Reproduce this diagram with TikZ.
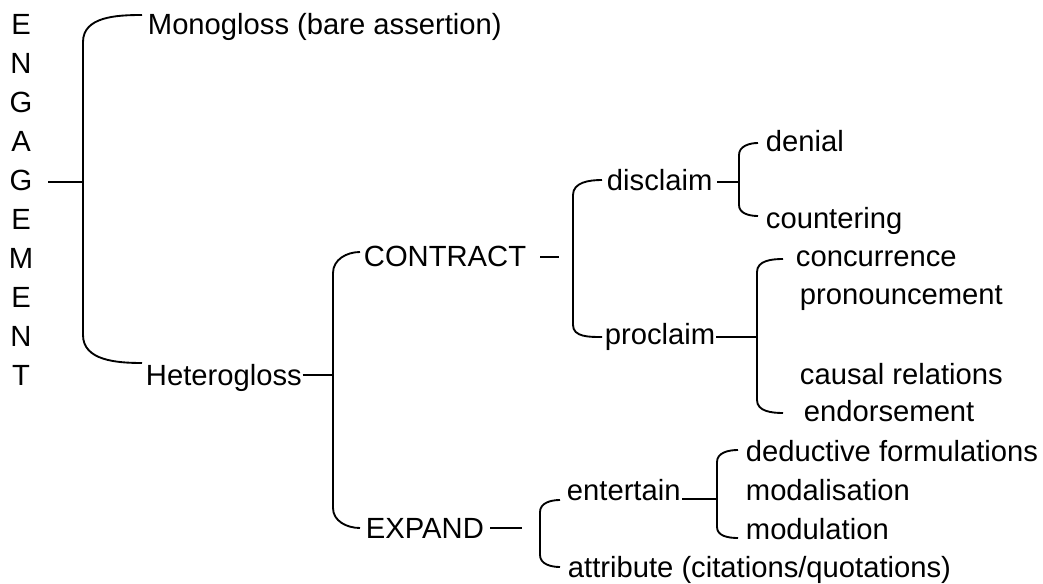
\documentclass[tikz,border=0pt]{standalone}
\usepackage{fontspec}
\setmainfont{Liberation Sans}

\begin{document}
\begin{tikzpicture}[x=0.75pt,y=-0.75pt,line width=1.4pt,
  every node/.style={inner sep=0pt,anchor=base west,font=\fontsize{21.9}{26}\selectfont}]
\useasboundingbox (0,0) rectangle (1043,584);

% ENGAGEMENT, one letter per line
\node[anchor=base] (l1) at (21,35) {E};
\node[anchor=base] (l2) at (21,73.9) {N};
\node[anchor=base] (l3) at (21,112.8) {G};
\node[anchor=base] (l4) at (21,151.7) {A};
\node[anchor=base] (l5) at (21,190.6) {G};
\node[anchor=base] (l6) at (21,229.5) {E};
\node[anchor=base] (l7) at (21,268.4) {M};
\node[anchor=base] (l8) at (21,307.3) {E};
\node[anchor=base] (l9) at (21,346.2) {N};
\node[anchor=base] (l10) at (21,385.1) {T};

\node (mono) at (147,35) {Monogloss (bare assertion)};
\node (hetero) at (145,386) {Heterogloss};

\node (contract) at (363,267) {CONTRACT};
\node (expand) at (365,539) {EXPAND};

\node (disclaim) at (606,191) {disclaim};
\node (proclaim) at (604,345) {proclaim};
\node (denial) at (765,152) {denial};
\node (countering) at (765,229) {countering};
\node (concurrence) at (795,267) {concurrence};
\node (pronouncement) at (799,305) {pronouncement};
\node (causal) at (799,385) {causal relations};
\node (endorsement) at (803,422) {endorsement};

\node (entertain) at (566,501) {entertain};
\node (attribute) at (567,577) {attribute (citations/quotations)};
\node (deductive) at (745,462) {deductive formulations};
\node (modalisation) at (745,501) {modalisation};
\node (modulation) at (745,540) {modulation};

% ENGAGEMENT bracket
\coordinate (engS) at (48,182);
\coordinate (engJ) at (83,182);
\coordinate (monoE) at (142,15);
\coordinate (hetE) at (142,363);
\draw (engS) -- (engJ);
\draw (monoE) to[out=180,in=90] (83,42) -- (83,335) to[out=-90,in=180] (hetE);

% Heterogloss bracket
\coordinate (hetJ) at (333,375);
\coordinate (conE) at (360,252);
\coordinate (expE) at (360,528);
\draw (hetero.east |- hetJ) -- (hetJ);
\draw (conE) to[out=180,in=90] (333,273) -- (333,508) to[out=-90,in=180] (expE);

% CONTRACT bracket
\coordinate (conS) at (540,257);
\coordinate (conT) at (559,257);
\coordinate (disE) at (602,180);
\coordinate (proE) at (602,337);
\draw (conS) -- (conT);
\draw (disE) to[out=180,in=90] (573,195) -- (573,325) to[out=-90,in=180] (proE);

% disclaim bracket
\coordinate (disS) at (717,182);
\coordinate (disJ) at (739,182);
\coordinate (denE) at (758,143);
\coordinate (couE) at (758,216);
\draw (disS) -- (disJ);
\draw (denE) to[out=180,in=90] (739,155) -- (739,205) to[out=-90,in=180] (couE);

% proclaim bracket
\coordinate (proJ) at (757,337);
\coordinate (concE) at (783,259);
\coordinate (endE) at (783,413);
\draw (proclaim.east |- proJ) -- (proJ);
\draw (concE) to[out=180,in=90] (757,272) -- (757,400) to[out=-90,in=180] (endE);

% EXPAND bracket
\coordinate (expS) at (490,528);
\coordinate (expT) at (522,528);
\coordinate (entE) at (560,500);
\coordinate (attE) at (560,567);
\draw (expS) -- (expT);
\draw (entE) to[out=180,in=90] (540,512) -- (540,555) to[out=-90,in=180] (attE);

% entertain bracket
\coordinate (entS) at (682,499);
\coordinate (entJ) at (717,499);
\coordinate (dedE) at (738,450);
\coordinate (modE) at (738,538);
\draw (entS) -- (entJ);
\draw (dedE) to[out=180,in=90] (717,462) -- (717,527) to[out=-90,in=180] (modE);

\end{tikzpicture}
\end{document}
